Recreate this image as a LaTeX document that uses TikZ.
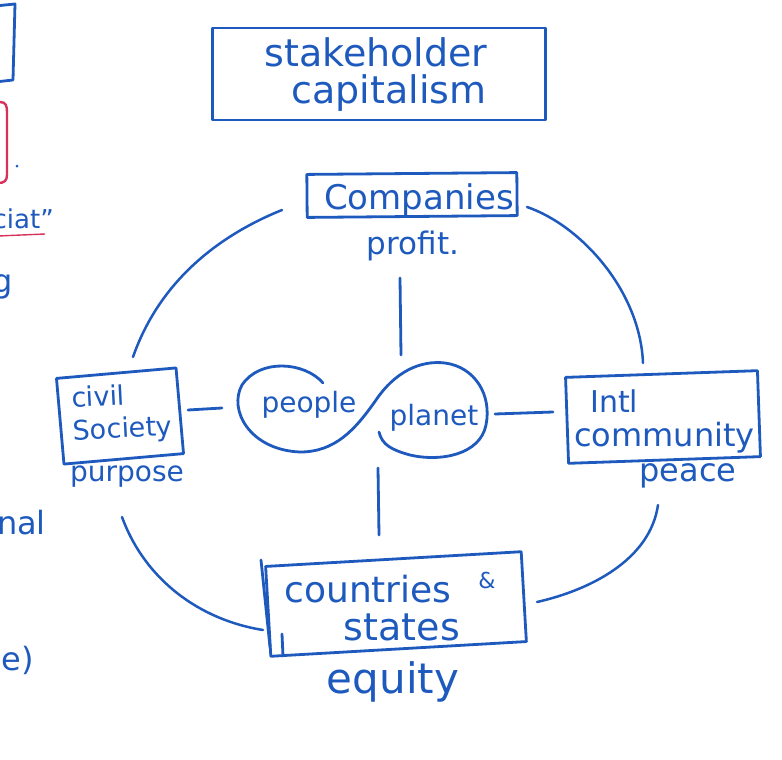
\documentclass[tikz,border=0pt]{standalone}
\usepackage{fontspec}
\setmainfont{DejaVu Sans}
\definecolor{ink}{RGB}{30,90,190}
\definecolor{redink}{RGB}{215,50,90}
\begin{document}
\begin{tikzpicture}[x=1pt,y=-1pt,
  pen/.style={draw=ink, line width=2.8pt, line cap=round, line join=round},
  hw/.style={text=ink, inner sep=0pt, anchor=center},
  boxn/.style={pen, rectangle, inner sep=0pt},
  fs/.style={font=\fontsize{#1}{#1}\selectfont}
]
\useasboundingbox[fill=white] (0,0) rectangle (782,760);

% ---- partial items at the left page edge ----
\draw[pen] (-5,6) -- (15,4) -- (13,80) -- (-5,82);
\draw[draw=redink, line width=2.4pt, line cap=round] (-5,102) -- (0,102) .. controls (6,102) and (7,106) .. (7,112) -- (7,175) .. controls (7,181) and (4,183) .. (-2,183);
\fill[ink] (17,166) circle (1.5pt);
\node[hw, fs=26, anchor=base east] (fa) at (54,228) {ciat”};
\draw[draw=redink, line width=1.4pt] (-2,236) -- (45,234);
\node[hw, fs=32, anchor=base east] (fb) at (13,292) {g};
\node[hw, fs=32, anchor=base east] (fc) at (46,534) {nal};
\node[hw, fs=32, anchor=base east] (fd) at (34,670) {e)};

% ---- title ----
\node[boxn, minimum width=333pt, minimum height=92pt] (title) at (379,74) {};
\node[hw, fs=38] (t1) at (376,52) {stakeholder};
\node[hw, fs=38] (t2) at (389,93) {capitalism};

% ---- companies ----
\node[boxn, minimum width=210pt, minimum height=43pt, rotate=0.5] (comp) at (412,195) {};
\node[hw, fs=34] (compt) at (419,200) {Companies};
\node[hw, fs=31] (profit) at (413,246) {profit.};

% ---- civil society ----
\node[boxn, minimum width=120pt, minimum height=86pt, rotate=5] (civil) at (120,416) {};
\node[hw, font=\fontsize{27}{33}\selectfont, align=left, rotate=3] (civilt) at (122,414) {civil\\Society};
\node[hw, fs=28] (purpose) at (127,477) {purpose};

% ---- international community ----
\node[boxn, minimum width=192pt, minimum height=86pt, rotate=2] (intl) at (663,417) {};
\node[hw, fs=30, anchor=west] (intl1) at (590,401) {Intl};
\node[hw, fs=32, anchor=west] (intl2) at (574,438) {community};
\node[hw, fs=32] (peace) at (688,476) {peace};

% ---- countries & states ----
\node[boxn, minimum width=256pt, minimum height=90pt, rotate=3.3] (ctry) at (396,604) {};
\draw[pen] (261,560) -- (270,647);
\draw[pen] (282,634) -- (283,656);
\node[hw, fs=36] (ctry1) at (368,589) {countries};
\node[hw, fs=22] (amp) at (487,580) {\&};
\node[hw, fs=38] (ctry2) at (402,627) {states};
\node[hw, fs=42] (equity) at (393,682) {equity};

% ---- infinity: people / planet ----
\draw[pen] (323,383) .. controls (305,362) and (260,358) .. (242,385)
  .. controls (228,410) and (250,450) .. (300,452)
  .. controls (335,452) and (355,430) .. (376,400)
  .. controls (395,372) and (420,360) .. (445,363)
  .. controls (475,367) and (492,395) .. (486,425)
  .. controls (480,455) and (440,462) .. (410,455)
  .. controls (392,450) and (382,445) .. (379,432);
\node[hw, fs=28] (people) at (309,405) {people};
\node[hw, fs=28] (planet) at (434,418) {planet};
\coordinate (infT) at (401,355);
\coordinate (infL) at (222,408);
\coordinate (infR) at (495,414);
\coordinate (infB) at (378,468);

% ---- spokes ----
\coordinate (cT) at (400,278);
\coordinate (cL) at (188,410);
\coordinate (cR) at (553,412);
\coordinate (cB) at (379,535);
\draw[pen] (cT) -- (infT);
\draw[pen] (cL) -- (infL);
\draw[pen] (infR) -- (cR);
\draw[pen] (infB) -- (cB);

% ---- outer arcs ----
\coordinate (a1) at (282,210); \coordinate (a2) at (133,357);
\coordinate (b1) at (527,207); \coordinate (b2) at (643,363);
\coordinate (c1) at (122,517); \coordinate (c2) at (263,630);
\coordinate (d1) at (537,602); \coordinate (d2) at (658,505);
\draw[pen, line width=2.5pt] (a1) .. controls (220,235) and (160,280) .. (a2);
\draw[pen, line width=2.5pt] (b1) .. controls (580,225) and (640,290) .. (b2);
\draw[pen, line width=2.5pt] (c1) .. controls (145,580) and (200,620) .. (c2);
\draw[pen, line width=2.5pt] (d1) .. controls (590,590) and (650,560) .. (d2);
\end{tikzpicture}
\end{document}
